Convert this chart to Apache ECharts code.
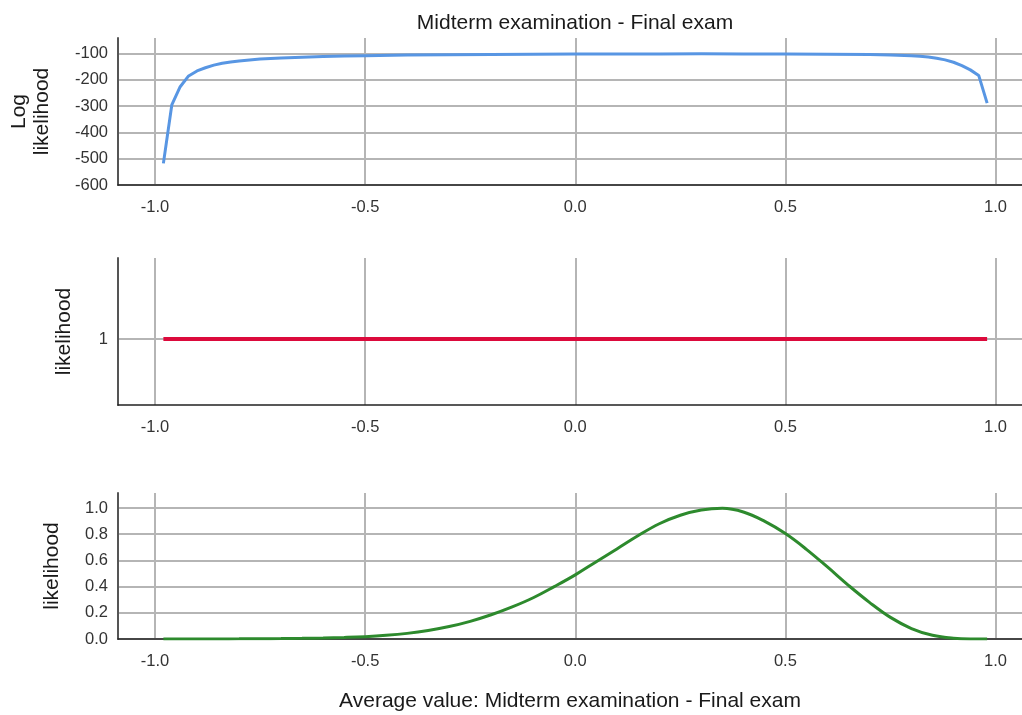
<!DOCTYPE html>
<html><head><meta charset="utf-8">
<script src="https://cdn.jsdelivr.net/npm/echarts@6/dist/echarts.min.js"></script>
<style>html,body{margin:0;padding:0;background:#fff}#c{width:1022px;height:715px}</style>
</head><body><div id="c"></div>
<script>
const chartTitle = 'Midterm examination - Final exam';
const xAxisName = 'Average value: Midterm examination - Final exam';
const yNames = ['Log\nlikelihood', 'likelihood', 'likelihood'];
const xTicks = [-1.0, -0.5, 0.0, 0.5, 1.0];
const llTicks = [-600, -500, -400, -300, -200, -100];
const flatTicks = [1];
const likTicks = [0, 0.2, 0.4, 0.6, 0.8, 1.0];

const llX = [-0.98,-0.96,-0.94,-0.92,-0.90,-0.88,-0.86,-0.84,-0.82,-0.80,-0.75,-0.70,-0.65,-0.60,-0.55,-0.50,-0.40,-0.30,-0.20,-0.10,0.00,0.10,0.20,0.30,0.40,0.50,0.60,0.70,0.75,0.80,0.82,0.84,0.86,0.88,0.90,0.92,0.94,0.96,0.98];
const llY = [-518,-296,-227,-186,-167,-155,-145,-138,-133,-129,-122,-118,-115,-112.5,-110.5,-109,-107,-105.5,-104.5,-103.5,-103,-102.6,-102.3,-102.2,-102.3,-102.7,-103.5,-105,-106.5,-109.5,-111.5,-114.5,-119,-125,-134,-147,-163,-184,-289];

const flatX = [-0.98, 0.98];
const flatY = [1, 1];

const likX = [-0.98,-0.95,-0.9,-0.85,-0.8,-0.75,-0.7,-0.65,-0.6,-0.55,-0.5,-0.45,-0.4,-0.35,-0.3,-0.25,-0.2,-0.15,-0.1,-0.05,0,0.05,0.1,0.15,0.2,0.25,0.3,0.35,0.4,0.45,0.5,0.55,0.6,0.65,0.7,0.75,0.8,0.85,0.9,0.95,0.98];
const likY = [0,0,0,0.0005,0.001,0.002,0.003,0.005,0.008,0.012,0.018,0.028,0.043,0.065,0.095,0.135,0.185,0.245,0.315,0.40,0.49,0.59,0.69,0.79,0.88,0.945,0.985,0.998,0.97,0.9,0.805,0.685,0.55,0.41,0.28,0.165,0.08,0.028,0.006,0.0005,0];

const zip = (a, b) => a.map((v, i) => [v, b[i]]);
const FONT = 'Liberation Sans, Arial, sans-serif';
const gridColor = '#b5b5b5';

const grids = [
  {left: 118, top: 38, right: 0, height: 147},
  {left: 118, top: 258, right: 0, height: 147},
  {left: 118, top: 493, right: 0, height: 146}
];

function xAx(i) {
  const o = {
    type: 'value', gridIndex: i, min: -1.088, max: 1.063,
    axisLine: {show: true, onZero: false, lineStyle: {color: '#222', width: 1.5}},
    axisTick: {show: false, customValues: xTicks},
    axisLabel: {customValues: xTicks, formatter: v => v.toFixed(1), color: '#333', fontSize: 16.5, fontFamily: FONT, margin: 14},
    splitLine: {show: true, lineStyle: {color: gridColor, width: 2}}
  };
  if (i === 2) {
    o.name = xAxisName; o.nameLocation = 'middle'; o.nameGap = 52;
    o.nameTextStyle = {fontSize: 21, color: '#1a1a1a', fontFamily: FONT};
  }
  return o;
}
function yAx(i, min, max, ticks, fmt, gap) {
  return {
    type: 'value', gridIndex: i, min: min, max: max,
    name: yNames[i], nameLocation: 'middle', nameGap: gap,
    nameTextStyle: {fontSize: 21, color: '#1a1a1a', fontFamily: FONT, lineHeight: 23},
    axisLine: {show: true, onZero: false, lineStyle: {color: '#555', width: 2}},
    axisTick: {show: false, customValues: ticks},
    axisLabel: {customValues: ticks, formatter: fmt, color: '#333', fontSize: 16.5, fontFamily: FONT, margin: 10},
    splitLine: {show: true, lineStyle: {color: gridColor, width: 2}}
  };
}

const chart = echarts.init(document.getElementById('c'), null, {renderer: 'canvas'});
chart.setOption({
  backgroundColor: '#fff',
  animation: false,
  title: {text: chartTitle, left: 570, top: 8, textAlign: 'center',
    textStyle: {fontSize: 21, fontWeight: 'normal', color: '#1a1a1a', fontFamily: FONT}},
  grid: grids,
  xAxis: [xAx(0), xAx(1), xAx(2)],
  yAxis: [
    yAx(0, -600, -42, llTicks, v => String(v), 64),
    yAx(1, 0.551, 1.551, flatTicks, v => String(v), 42),
    yAx(2, 0, 1.115, likTicks, v => v.toFixed(1), 54)
  ],
  series: [
    {type: 'line', xAxisIndex: 0, yAxisIndex: 0, data: zip(llX, llY), showSymbol: false,
      lineStyle: {color: '#5896e3', width: 3}, z: 5},
    {type: 'line', xAxisIndex: 1, yAxisIndex: 1, data: zip(flatX, flatY), showSymbol: false,
      lineStyle: {color: '#dc0a3c', width: 4}, z: 5},
    {type: 'line', xAxisIndex: 2, yAxisIndex: 2, data: zip(likX, likY), showSymbol: false, smooth: 0.4,
      lineStyle: {color: '#2d8a2d', width: 3}, z: 5}
  ]
});
</script></body></html>
